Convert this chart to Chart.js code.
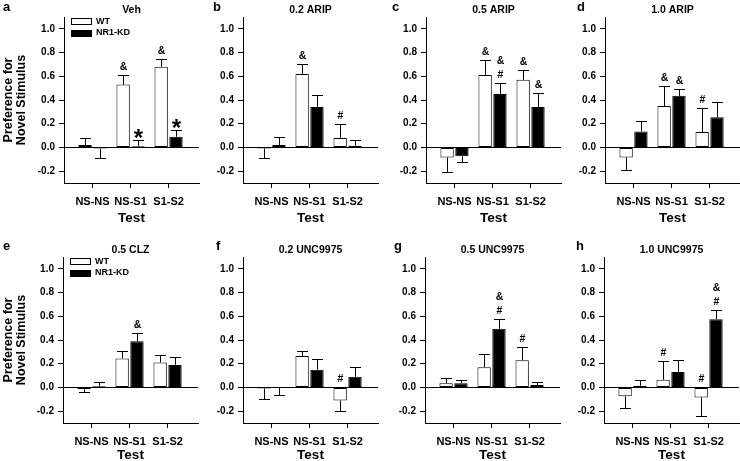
<!DOCTYPE html>
<html>
<head>
<meta charset="utf-8">
<script src="https://cdn.jsdelivr.net/npm/chart.js@4.4.1/dist/chart.umd.min.js"></script>
<style>
  html, body { margin: 0; padding: 0; background: #fff; }
  body { width: 740px; height: 461px; position: relative; overflow: hidden;
         font-family: 'Liberation Sans', Arial, sans-serif; }
  canvas { position: absolute; }
  .letter { position: absolute; font-weight: bold; font-size: 13px; line-height: 13px; z-index: 2; }
</style>
</head>
<body>
<div id="figure"></div>
<script>
// ---- data ----
const categories = ['NS-NS', 'NS-S1', 'S1-S2'];
const yTicks = [-0.2, 0.0, 0.2, 0.4, 0.6, 0.8, 1.0];
const seriesNames = ['WT', 'NR1-KD'];
const panelLetters = ['a', 'b', 'c', 'd', 'e', 'f', 'g', 'h'];
const panelTitles = ['Veh', '0.2 ARIP', '0.5 ARIP', '1.0 ARIP',
                     '0.5 CLZ', '0.2 UNC9975', '0.5 UNC9975', '1.0 UNC9975'];

// one row per panel: NS-NS, NS-S1, S1-S2
const wtMeans = [
  [0.02, 0.53, 0.68],
  [-0.01, 0.62, 0.08],
  [-0.085, 0.61, 0.57],
  [-0.085, 0.35, 0.13],
  [-0.015, 0.245, 0.21],
  [-0.01, 0.265, -0.11],
  [0.035, 0.17, 0.23],
  [-0.075, 0.065, -0.085]
];
const wtErrors = [
  [0.06, 0.08, 0.07],
  [0.08, 0.08, 0.12],
  [0.125, 0.125, 0.08],
  [0.105, 0.165, 0.2],
  [0.025, 0.065, 0.065],
  [0.09, 0.045, 0.09],
  [0.045, 0.115, 0.11],
  [0.095, 0.155, 0.155]
];
const kdMeans = [
  [-0.01, 0.01, 0.09],
  [0.02, 0.34, 0.015],
  [-0.075, 0.45, 0.34],
  [0.135, 0.435, 0.255],
  [0.01, 0.39, 0.19],
  [-0.005, 0.15, 0.09],
  [0.035, 0.495, 0.02],
  [0.015, 0.13, 0.575]
];
const kdErrors = [
  [0.075, 0.05, 0.06],
  [0.065, 0.10, 0.05],
  [0.05, 0.095, 0.12],
  [0.085, 0.055, 0.125],
  [0.04, 0.065, 0.07],
  [0.055, 0.09, 0.08],
  [0.025, 0.08, 0.03],
  [0.045, 0.1, 0.08]
];
// significance marks, each character is one line, top line first
const wtMarks = [
  ['', '&', '&'],
  ['', '&', '#'],
  ['', '&', '&'],
  ['', '&', '#'],
  ['', '', ''],
  ['', '', '#'],
  ['', '', '#'],
  ['', '#', '#']
];
const kdMarks = [
  ['', '*', '*'],
  ['', '', ''],
  ['', '&#', '&'],
  ['', '&', ''],
  ['', '&', ''],
  ['', '', ''],
  ['', '&#', ''],
  ['', '', '&#']
];

// ---- layout ----
const rowTops = [0, 240];
const titlePads = [0, 3];
const canvasHeight = 225;
const plotTop = 17;
const xAxisHeight = 42;
const plotWidth = 135;
// [canvas left, y axis x] in page pixels
const panelX = [
  [0, 64], [200, 243], [380, 426], [563, 605],
  [0, 63], [200, 243], [380, 425], [562, 604]
];
const letterPos = [
  [3, 0], [213, 0], [392, 0], [577, 0],
  [3, 239], [216, 239], [394, 239], [576, 239]
];

const FONT = "'Liberation Sans', Arial, sans-serif";
Chart.defaults.font.family = FONT;
Chart.defaults.font.weight = 'bold';
Chart.defaults.color = '#000';

/**
 * Error bars, significance marks, panel title and legend
 */
const panelExtras = {
  id: 'panelExtras',
  afterDatasetsDraw(chart) {
    const {ctx, chartArea} = chart;
    const y = chart.scales.y;
    ctx.save();
    ctx.strokeStyle = '#000';
    ctx.fillStyle = '#000';
    ctx.lineWidth = 1;
    ctx.textAlign = 'center';
    ctx.textBaseline = 'alphabetic';

    chart.data.datasets.forEach((ds, di) => {
      const meta = chart.getDatasetMeta(di);
      meta.data.forEach((bar, i) => {
        const m = ds.data[i].y;
        const e = ds.errors[i];
        const end = m < 0 ? m - e : m + e;
        const y0 = y.getPixelForValue(m);
        const y1 = Math.round(y.getPixelForValue(end)) + 0.5;
        const cx = Math.round(bar.x) + 0.5;
        ctx.beginPath();
        ctx.moveTo(cx, y0);
        ctx.lineTo(cx, y1);
        ctx.moveTo(cx - 5.5, y1);
        ctx.lineTo(cx + 5.5, y1);
        ctx.stroke();

        const mark = ds.marks[i];
        if (!mark) return;
        let base = y.getPixelForValue(m > 0 ? end : 0) - 5;
        mark.split('').reverse().forEach(ch => {
          if (ch === '*') {
            ctx.font = 'bold 24px ' + FONT;
            ctx.fillText(ch, cx, base + 11);
          } else {
            ctx.font = 'bold 10.5px ' + FONT;
            ctx.fillText(ch, cx, base);
          }
          base -= 14;
        });
      });
    });

    // panel title
    const opts = chart.options.plugins.panelExtras;
    ctx.font = 'bold 10.5px ' + FONT;
    ctx.textBaseline = 'middle';
    ctx.fillText(opts.title, (chartArea.left + chartArea.right) / 2, chartArea.top - 7);

    // legend
    if (opts.legend) {
      const bx = chartArea.left + 7;
      ctx.textAlign = 'left';
      ctx.font = 'bold 9px ' + FONT;
      chart.data.datasets.forEach((ds, di) => {
        const cy = chartArea.top + 4.5 + di * 11.5;
        ctx.fillStyle = ds.backgroundColor;
        ctx.fillRect(bx, Math.round(cy - 3.5), 21, 7);
        ctx.strokeRect(bx + 0.5, Math.round(cy - 3.5) + 0.5, 20, 6);
        ctx.fillStyle = '#000';
        ctx.fillText(ds.label, bx + 25, cy);
      });
    }
    ctx.restore();
  }
};

function makePanel(p) {
  const row = Math.floor(p / 4);
  const [left, axisX] = panelX[p];
  const axisOffset = axisX - left;

  const canvas = document.createElement('canvas');
  canvas.width = axisOffset + plotWidth + 1;
  canvas.height = canvasHeight;
  canvas.style.left = left + 'px';
  canvas.style.top = rowTops[row] + 'px';
  document.getElementById('figure').appendChild(canvas);

  const letter = document.createElement('div');
  letter.className = 'letter';
  letter.textContent = panelLetters[p];
  letter.style.left = letterPos[p][0] + 'px';
  letter.style.top = letterPos[p][1] + 'px';
  document.body.appendChild(letter);

  const showYTitle = p % 4 === 0;

  new Chart(canvas, {
    type: 'bar',
    data: {
      datasets: [
        {
          label: seriesNames[0],
          data: wtMeans[p].map((v, i) => ({x: i, y: v})),
          errors: wtErrors[p],
          marks: wtMarks[p],
          backgroundColor: '#ffffff',
          borderColor: '#000000',
          borderWidth: 1,
          borderSkipped: false
        },
        {
          label: seriesNames[1],
          data: kdMeans[p].map((v, i) => ({x: i, y: v})),
          errors: kdErrors[p],
          marks: kdMarks[p],
          backgroundColor: '#000000',
          borderColor: '#000000',
          borderWidth: 1,
          borderSkipped: false
        }
      ]
    },
    options: {
      responsive: false,
      animation: false,
      events: [],
      categoryPercentage: 0.78,
      barPercentage: 0.9,
      layout: { padding: { top: plotTop, right: 1, bottom: 0, left: 0 } },
      plugins: {
        legend: { display: false },
        tooltip: { enabled: false },
        panelExtras: { title: panelTitles[p], legend: showYTitle }
      },
      scales: {
        x: {
          type: 'linear',
          min: -0.75,
          max: 2.8,
          offset: false,
          afterBuildTicks: s => { s.ticks = categories.map((c, i) => ({value: i})); },
          afterFit: s => { s.height = xAxisHeight; },
          ticks: {
            callback: v => categories[v],
            font: { size: 11, weight: 'bold' },
            color: '#000',
            padding: 7,
            maxRotation: 0,
            autoSkip: false
          },
          grid: { offset: false, drawOnChartArea: false, tickLength: 5, tickColor: '#000' },
          border: { color: '#000', width: 1 },
          title: {
            display: true,
            text: 'Test',
            color: '#000',
            font: { size: 13.5, weight: 'bold', lineHeight: 1 },
            padding: { top: 0, bottom: titlePads[row] }
          }
        },
        y: {
          min: -0.3,
          max: 1.1,
          afterBuildTicks: s => { s.ticks = yTicks.map(v => ({value: v})); },
          afterFit: s => { s.width = axisOffset; },
          ticks: {
            callback: v => v.toFixed(1),
            font: { size: 10, weight: 'bold' },
            color: '#000',
            padding: 4
          },
          grid: {
            color: c => (c.tick && c.tick.value === 0) ? '#000' : 'rgba(0,0,0,0)',
            tickColor: '#000',
            tickLength: 5,
            lineWidth: 1
          },
          border: { color: '#000', width: 1 },
          title: {
            display: showYTitle,
            text: ['Preference for', 'Novel Stimulus'],
            color: '#000',
            font: { size: 12.5, weight: 'bold', lineHeight: 1.05 },
            padding: { top: 2, bottom: 0 }
          }
        }
      }
    },
    plugins: [panelExtras]
  });
}

for (let p = 0; p < 8; p++) makePanel(p);
</script>
</body>
</html>
